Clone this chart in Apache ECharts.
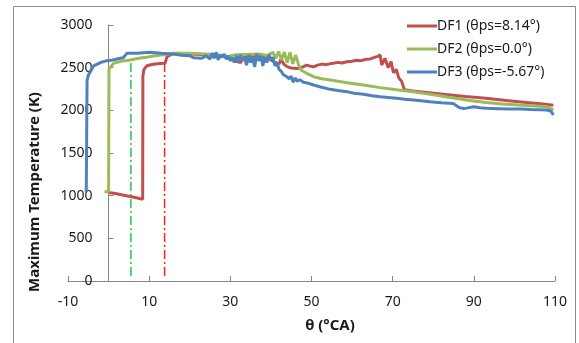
<!DOCTYPE html>
<html>
<head>
<meta charset="utf-8">
<script src="https://cdn.jsdelivr.net/npm/echarts@6/dist/echarts.min.js"></script>
<style>
  html, body { margin: 0; padding: 0; background: #fff; }
  #chart { width: 579px; height: 343px; }
</style>
</head>
<body>
<div id="chart"></div>
<script>
// Crank-angle tick labels (every other tick from -10)
const xTickLabels = [-10, 10, 30, 50, 70, 90, 110];
const yTickLabels = [0, 500, 1000, 1500, 2000, 2500, 3000];

const seriesNames = ['DF1 (θps=8.14°)', 'DF2 (θps=0.0°)', 'DF3 (θps=-5.67°)'];

// DF1: [θ (°CA), maximum temperature (K)]
const df1 = [
  [0, 1038], [2, 1022], [4, 1003], [6, 984], [8.4, 958], [8.45, 2400], [8.7, 2478],
  [9.4, 2522], [11, 2540], [12.7, 2548], [13.9, 2552], [14.4, 2628], [15.6, 2658],
  [17, 2668], [20, 2660], [24, 2650], [28, 2640], [31, 2580], [32.5, 2560], [33.5, 2628],
  [36, 2640], [39, 2620], [41, 2560], [42, 2545], [42.5, 2600], [43.2, 2540], [44, 2512],
  [45, 2495], [46.5, 2490], [47.5, 2500], [48.8, 2530], [49.5, 2520], [50.5, 2510],
  [51.5, 2530], [52.5, 2542], [53.5, 2535], [55, 2550], [56.5, 2562], [57.5, 2555],
  [58.7, 2570], [60, 2576], [61, 2586], [62, 2580], [63.5, 2598], [64.5, 2602],
  [65.5, 2620], [66.3, 2632], [66.9, 2650], [67.3, 2530], [68.1, 2610], [68.9, 2500],
  [69.6, 2570], [70.2, 2440], [70.9, 2480], [71.5, 2380], [72.2, 2340], [72.9, 2240],
  [75, 2226], [79, 2207], [83, 2186], [88, 2162], [93, 2141], [98, 2116], [103, 2092],
  [107, 2074], [109.6, 2060]
];

// DF2: [θ (°CA), maximum temperature (K)]
const df2 = [
  [-1, 1045], [0, 1045], [0.1, 2480], [0.5, 2500], [1.2, 2550], [3, 2574], [5.3, 2590],
  [7.8, 2614], [9.4, 2622], [11, 2636], [13.5, 2650], [16, 2670], [20, 2668], [24, 2660],
  [27, 2650], [29, 2626], [31, 2650], [34, 2655], [37, 2660], [39, 2642], [40.5, 2680],
  [41.2, 2610], [41.9, 2690], [42.6, 2590], [43.3, 2685], [44, 2560], [44.7, 2680],
  [45.4, 2545], [46.1, 2650], [46.8, 2535], [47.5, 2470], [48.8, 2434], [50.5, 2394],
  [52.5, 2370], [54.6, 2355], [56.5, 2340], [58.7, 2324], [62.8, 2297], [66.9, 2266],
  [71, 2240], [75, 2218], [80, 2182], [85, 2145], [89, 2115], [93, 2092], [97, 2075],
  [101, 2063], [105, 2052], [108, 2043], [109.6, 2004]
];

// DF3: [θ (°CA), maximum temperature (K)]
const df3 = [
  [-5.5, 1040], [-5.3, 2355], [-5, 2410], [-3.7, 2520], [-2, 2560], [-0.4, 2582],
  [1, 2590], [2.9, 2610], [3.6, 2616], [4.5, 2668], [7, 2668], [10.2, 2680], [13, 2668],
  [16, 2660], [18, 2645], [20, 2640], [21, 2615], [23, 2610], [24, 2640], [25, 2600],
  [25.5, 2670], [26, 2610], [26.5, 2680], [27, 2590], [27.5, 2650], [28, 2620],
  [28.5, 2660], [29, 2600], [29.5, 2640], [30, 2580], [30.5, 2620], [31, 2560],
  [31.5, 2640], [32, 2570], [32.5, 2650], [33, 2590], [33.5, 2620], [34, 2530],
  [34.5, 2650], [35, 2560], [35.5, 2620], [36, 2510], [36.5, 2660], [37, 2580],
  [37.5, 2640], [38, 2520], [38.5, 2620], [39, 2560], [39.5, 2650], [40, 2590],
  [40.5, 2620], [41, 2520], [41.5, 2560], [42, 2480], [42.5, 2460], [43, 2420],
  [43.9, 2394], [44.5, 2370], [45, 2400], [45.5, 2330], [46, 2380], [46.5, 2340],
  [47.1, 2360], [48, 2330], [49, 2320], [50.5, 2297], [52.5, 2270], [54.6, 2246],
  [56.5, 2232], [58.7, 2219], [60.5, 2200], [62.8, 2188], [65, 2172], [66.9, 2160],
  [69, 2150], [71, 2141], [73, 2130], [75.1, 2122], [77, 2112], [79.2, 2101], [82, 2090],
  [84.9, 2080], [86.5, 2030], [87.5, 2022], [88.2, 2026], [89.9, 2043], [91.5, 2030],
  [93.2, 2024], [96, 2020], [99, 2015], [101.4, 2016], [104, 2010], [108, 2004],
  [109, 1990], [109.6, 1945]
];

// Reference crank angles (dash-dot markers)
const refGreen = [[5.5, 60], [5.5, 2590]];
const refRed = [[13.8, 60], [13.8, 2560]];

const labelFont = '"Noto Sans", "Open Sans", sans-serif';
const axisGray = '#868686';

const chart = echarts.init(document.getElementById('chart'), null, { renderer: 'canvas' });

// Plot spans θ = -10..110 over 487 px; the temperature axis sits at θ = 0
const gridLeft = 68, gridRight = 24;
const plotWidth = 579 - gridLeft - gridRight;
const yAxisShift = plotWidth * 10 / 120;

chart.setOption({
  animation: false,
  backgroundColor: '#ffffff',
  grid: { left: gridLeft, right: gridRight, top: 25, bottom: 62, containLabel: false },
  legend: {
    orient: 'vertical',
    left: 402,
    top: 14,
    itemWidth: 30,
    itemHeight: 3,
    itemGap: 9,
    icon: 'rect',
    data: seriesNames,
    textStyle: { fontFamily: labelFont, fontSize: 14, color: '#1a1a1a', padding: [0, 0, 0, -5] }
  },
  xAxis: {
    type: 'value',
    min: -10,
    max: 110,
    interval: 20,
    axisLine: { onZero: false, lineStyle: { color: axisGray, width: 1 } },
    axisTick: { inside: true, length: 5, lineStyle: { color: axisGray } },
    axisLabel: {
      margin: 14,
      fontFamily: labelFont,
      fontSize: 14,
      color: '#1a1a1a',
      formatter: v => (xTickLabels.includes(v) ? String(v) : '')
    },
    splitLine: { show: false }
  },
  yAxis: {
    type: 'value',
    min: 0,
    max: 3000,
    interval: 500,
    offset: -yAxisShift,
    axisLine: { show: true, onZero: false, lineStyle: { color: axisGray, width: 1 } },
    axisTick: { show: true, inside: true, length: 5, lineStyle: { color: axisGray } },
    axisLabel: {
      margin: 16,
      fontFamily: labelFont,
      fontSize: 14,
      color: '#1a1a1a',
      formatter: v => (yTickLabels.includes(v) ? String(v) : '')
    },
    splitLine: { show: false }
  },
  graphic: [
    {
      type: 'rect',
      shape: { x: 13.5, y: 6.5, width: 562, height: 345 },
      style: { fill: 'none', stroke: '#8c8c8c', lineWidth: 1 },
      silent: true,
      z: -10
    },
    {
      type: 'text',
      x: 35, y: 192,
      rotation: Math.PI / 2,
      style: {
        text: 'Maximum Temperature (K)',
        fontFamily: labelFont, fontSize: 15, fontWeight: 'bold', fill: '#1a1a1a',
        align: 'center', verticalAlign: 'middle'
      }
    },
    {
      type: 'text',
      x: 330, y: 326,
      style: {
        text: 'θ (°CA)',
        fontFamily: labelFont, fontSize: 15, fontWeight: 'bold', fill: '#1a1a1a',
        align: 'center', verticalAlign: 'middle'
      }
    }
  ],
  series: [
    {
      name: 'refGreen', type: 'line', data: refGreen, symbol: 'none', silent: true,
      lineStyle: { color: '#22c45a', width: 1.5, type: [9, 3, 2, 3] }, z: 1
    },
    {
      name: 'refRed', type: 'line', data: refRed, symbol: 'none', silent: true,
      lineStyle: { color: '#ff2020', width: 1.5, type: [9, 3, 2, 3] }, z: 1
    },
    {
      name: seriesNames[0], type: 'line', data: df1, symbol: 'none',
      itemStyle: { color: '#c0504d' }, lineStyle: { color: '#c0504d', width: 3 }, z: 2
    },
    {
      name: seriesNames[1], type: 'line', data: df2, symbol: 'none',
      itemStyle: { color: '#9bbb59' }, lineStyle: { color: '#9bbb59', width: 3 }, z: 3
    },
    {
      name: seriesNames[2], type: 'line', data: df3, symbol: 'none',
      itemStyle: { color: '#4f81bd' }, lineStyle: { color: '#4f81bd', width: 3 }, z: 4
    }
  ]
});
</script>
</body>
</html>
